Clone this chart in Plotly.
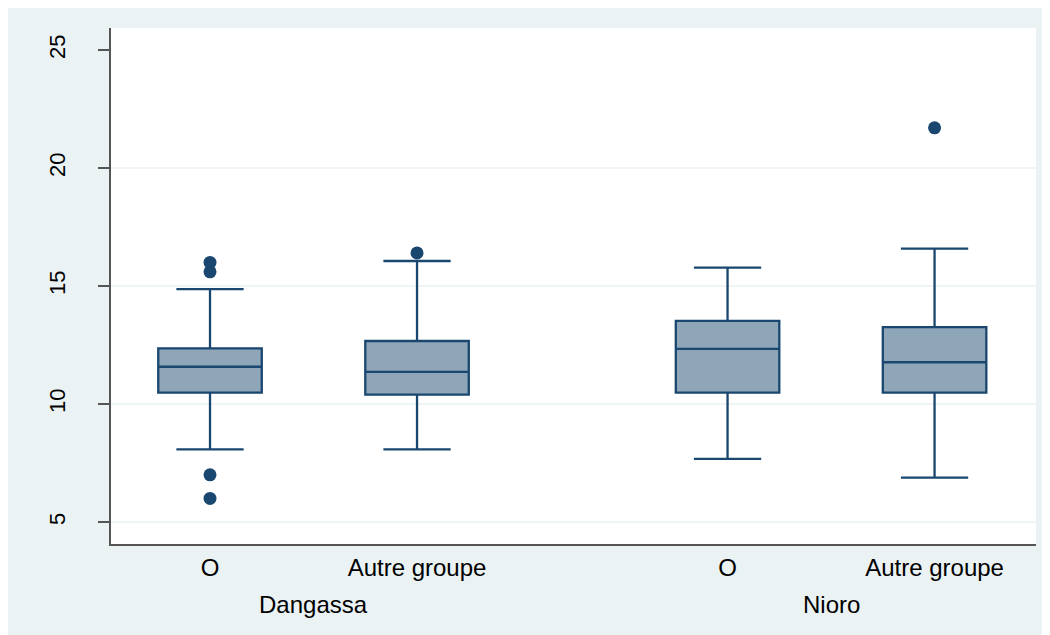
import plotly.graph_objects as go

# ---- data ----
groups = ["Dangassa", "Dangassa", "Nioro", "Nioro"]
categories = ["O", "Autre groupe", "O", "Autre groupe"]
positions = [1.0, 2.0, 3.5, 4.5]
q1 = [10.48, 10.40, 10.48, 10.48]
median = [11.58, 11.36, 12.34, 11.77]
q3 = [12.36, 12.67, 13.52, 13.26]
lower_whisker = [8.08, 8.08, 7.68, 6.88]
upper_whisker = [14.87, 16.06, 15.78, 16.58]
outlier_pos = [1.0, 1.0, 1.0, 1.0, 2.0, 4.5]
outlier_val = [16.0, 15.6, 7.0, 6.0, 16.4, 21.7]
y_ticks = [5, 10, 15, 20, 25]
grid_values = [5, 10, 15, 20]
group_names = ["Dangassa", "Nioro"]
group_centers = [1.5, 4.0]

NAVY = "#1A476F"
FILL = "#8FA5B8"
BG = "#EAF2F3"
FONT = "Liberation Sans, Arial, sans-serif"

fig = go.Figure()
fig.add_trace(go.Box(
    x=positions, q1=q1, median=median, q3=q3,
    lowerfence=lower_whisker, upperfence=upper_whisker,
    width=0.5, whiskerwidth=0.65,
    fillcolor=FILL, line=dict(color=NAVY, width=2.3),
    boxpoints=False, showlegend=False, hoverinfo="skip",
))
fig.add_trace(go.Scatter(
    x=outlier_pos, y=outlier_val, mode="markers",
    marker=dict(color=NAVY, size=13, line=dict(width=0)),
    showlegend=False, hoverinfo="skip",
))

for gv in grid_values:
    fig.add_shape(type="line", xref="paper", x0=0, x1=1, yref="y", y0=gv, y1=gv,
                  line=dict(color=BG, width=1.5), layer="below")

for name, cx in zip(group_names, group_centers):
    fig.add_annotation(x=cx, xref="x", y=0, yref="paper", yshift=-60,
                       text=name, showarrow=False, yanchor="middle",
                       font=dict(family=FONT, size=24, color="#000"))

fig.update_layout(
    width=1050, height=635,
    margin=dict(l=103, r=22, t=20, b=99),
    paper_bgcolor=BG, plot_bgcolor="white",
    font=dict(family=FONT, color="#000"),
    xaxis=dict(
        range=[0.5217, 4.990], tickvals=positions, ticktext=categories,
        showgrid=False, zeroline=False, showline=True, linecolor="#555555",
        linewidth=1.5, ticks="", tickfont=dict(size=24, family=FONT),
        ticklabelstandoff=1,
    ),
    yaxis=dict(
        range=[4.07, 25.93], tickvals=y_ticks, tickangle=-90,
        showgrid=False, zeroline=False,
        showline=True, linecolor="#555555", linewidth=1.5,
        ticks="outside", ticklen=11, tickcolor="#555555", tickwidth=1.5,
        tickfont=dict(size=22, family=FONT), ticklabelstandoff=24,
    ),
)

fig.write_html("out.html")
